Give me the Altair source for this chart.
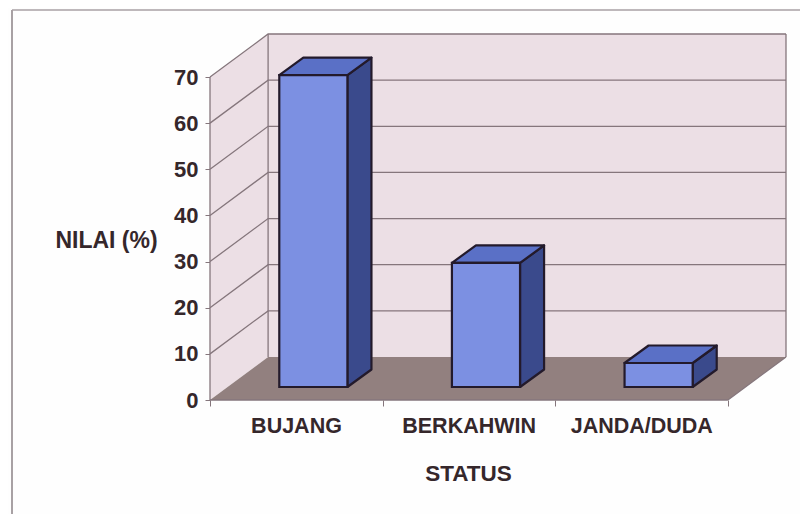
import altair as alt
import pandas as pd

categories = ["BUJANG", "BERKAHWIN", "JANDA/DUDA"]
values = [67.6, 26.9, 5.2]
y_ticks = [0, 10, 20, 30, 40, 50, 60, 70]
x_ticks = [0, 1, 2, 3]

# Oblique-projection geometry, in data units
PX_X = 517 / 3
PX_Y = 323 / 70
WALL_DX = 58 / PX_X
WALL_DY = 43 / PX_Y
BAR_SHIFT_X = 17 / PX_X
BAR_SHIFT_Y = 13 / PX_Y
BAR_HALF = 34 / PX_X
BAR_DX = 24 / PX_X
BAR_DY = 17.5 / PX_Y
TOP = 70

W, H = 576, 366
TXT = "#35272b"
xs = alt.Scale(domain=[0, 3 + WALL_DX], nice=False, zero=False)
ys = alt.Scale(domain=[0, TOP + WALL_DY], nice=False, zero=False)
X = alt.X("x:Q", scale=xs, title="STATUS",
          axis=alt.Axis(values=x_ticks, domain=False, grid=False, tickSize=6, tickColor="#85767c",
                        labelExpr="['BUJANG','BERKAHWIN','JANDA/DUDA',''][datum.value]",
                        labelOffset=86, labelPadding=9, labelFont="Liberation Sans", labelFontSize=21.5,
                        labelFontWeight="bold", labelColor=TXT, labelFlush=False, labelOverlap=False,
                        titleFont="Liberation Sans", titleFontSize=22.5, titleFontWeight="bold",
                        titleColor=TXT, titleX=258, titleY=73, titleBaseline="middle"))
Y = alt.Y("y:Q", scale=ys, title="NILAI (%)",
          axis=alt.Axis(values=y_ticks, domain=False, grid=False, tickSize=5, tickColor="#85767c",
                        labelPadding=7, labelFont="Liberation Sans", labelFontSize=22, labelFontWeight="bold",
                        labelColor=TXT, titleFont="Liberation Sans", titleFontSize=23,
                        titleFontWeight="bold", titleColor=TXT, titleAngle=0, titleX=-104, titleY=206,
                        titleAlign="center", titleBaseline="middle"))

# Walls
wall_rows = []
for name, pts in {"left": [(0, 0), (WALL_DX, WALL_DY)], "back": [(WALL_DX, WALL_DY), (3 + WALL_DX, WALL_DY)]}.items():
    for px, py in pts:
        wall_rows.append({"g": name, "x": px, "y": py, "y2": py + TOP})
walls = alt.Chart(pd.DataFrame(wall_rows)).mark_area(orient="vertical", color="#ecdfe5").encode(
    x=X, y=Y, y2="y2:Q", detail="g:N")

floor = alt.Chart(pd.DataFrame([
    {"x": 0, "x2": 3, "y": 0}, {"x": WALL_DX, "x2": 3 + WALL_DX, "y": WALL_DY}
])).mark_area(orient="horizontal", color="#92807f").encode(x=X, x2="x2:Q", y=Y)

# Grid and frame lines
line_rows = []
for v in y_ticks[1:]:
    for k, (px, py) in enumerate([(0, v), (WALL_DX, v + WALL_DY), (3 + WALL_DX, v + WALL_DY)]):
        line_rows.append({"g": f"h{v}", "k": k, "x": px, "y": py})
for name, pts in {
    "left": [(0, 0), (0, TOP)],
    "corner": [(WALL_DX, WALL_DY), (WALL_DX, TOP + WALL_DY)],
    "right": [(3 + WALL_DX, WALL_DY), (3 + WALL_DX, TOP + WALL_DY)],
    "base": [(0, 0), (3, 0)],
    "edge": [(3, 0), (3 + WALL_DX, WALL_DY)],
}.items():
    for k, (px, py) in enumerate(pts):
        line_rows.append({"g": name, "k": k, "x": px, "y": py})
grid = alt.Chart(pd.DataFrame(line_rows)).mark_line(color="#85767c", strokeWidth=1.3).encode(
    x=X, y=Y, detail="g:N", order="k:Q")

# Bars
front, side, top = [], [], []
for i, (c, v) in enumerate(zip(categories, values)):
    cx = i + 0.5 + BAR_SHIFT_X
    x0, x1 = cx - BAR_HALF, cx + BAR_HALF
    y0, y1 = BAR_SHIFT_Y, BAR_SHIFT_Y + v
    front.append({"c": c, "x": x0, "x2": x1, "y": y0, "y2": y1})
    side.append({"c": c, "x": x1, "y": y0, "y2": y1})
    side.append({"c": c, "x": x1 + BAR_DX, "y": y0 + BAR_DY, "y2": y1 + BAR_DY})
    top.append({"c": c, "x": x0, "x2": x1, "y": y1})
    top.append({"c": c, "x": x0 + BAR_DX, "x2": x1 + BAR_DX, "y": y1 + BAR_DY})

OUT = "#231a2b"
b_side = alt.Chart(pd.DataFrame(side)).mark_area(
    orient="vertical", color="#3a4a8c", stroke=OUT, strokeWidth=2.2, strokeJoin="round"
).encode(x=X, y=Y, y2="y2:Q", detail="c:N")
b_top = alt.Chart(pd.DataFrame(top)).mark_area(
    orient="horizontal", color="#5a70c6", stroke=OUT, strokeWidth=2.2, strokeJoin="round"
).encode(x=X, x2="x2:Q", y=Y, detail="c:N")
b_front = alt.Chart(pd.DataFrame(front)).mark_rect(
    color="#7c90e2", stroke=OUT, strokeWidth=2.2
).encode(x=X, x2="x2:Q", y=Y, y2="y2:Q")

# Outer frame of the picture: only the top and left edges are visible
frame_top = alt.Chart(pd.DataFrame({"a": [1]})).mark_rule(color="#a8a1a4", strokeWidth=1.5).encode(
    x=alt.value(-198), x2=alt.value(590), y=alt.value(-24))
frame_left = alt.Chart(pd.DataFrame({"a": [1]})).mark_rule(color="#a8a1a4", strokeWidth=2).encode(
    x=alt.value(-198), y=alt.value(-24), y2=alt.value(490))

chart = alt.layer(walls, floor, grid, b_side, b_top, b_front, frame_top, frame_left).properties(
    width=W, height=H, background="#fefefe",
    autosize=alt.AutoSizeParams(type="none"),
    padding={"left": 202, "top": 26, "right": 14, "bottom": 114},
).configure_view(stroke=None)

chart.save("out.html", embed_options={"renderer": "svg", "actions": False})
